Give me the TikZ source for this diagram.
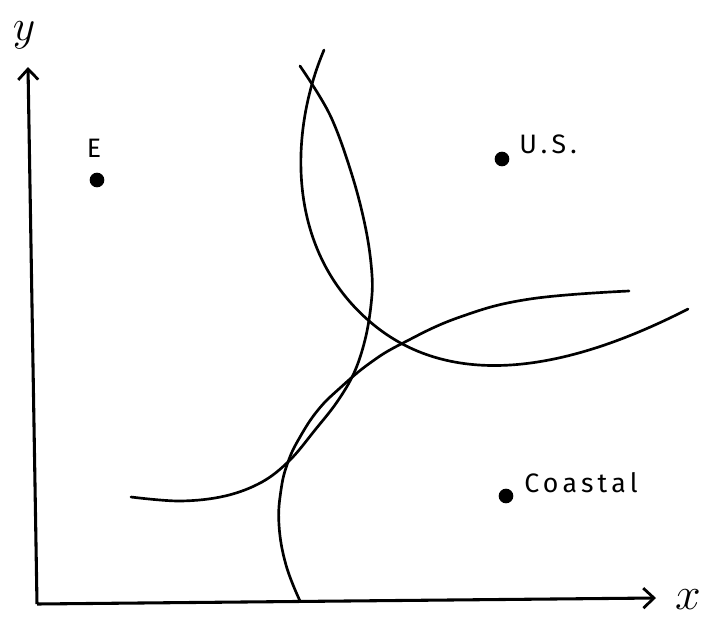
\documentclass[tikz,border=0pt]{standalone}
\usepackage{fontspec}
\setmainfont{Fira Sans}[LetterSpace=16]
\usetikzlibrary{arrows.meta}
\begin{document}
\begin{tikzpicture}[x=0.75pt,y=-0.75pt,
  curve/.style={line width=2.0pt,line cap=round,line join=round},
  axis/.style={line width=2.3pt,-{Straight Barb[length=8pt,width=15pt,line width=2.1pt]}},
  dot/.style={circle,fill=black,inner sep=0pt,minimum size=11pt},
  lab/.style={font=\fontsize{20}{22}\selectfont,inner sep=0pt},
  axlab/.style={inner sep=0pt}]
\useasboundingbox (0,0) rectangle (715,622);
% axes
\coordinate (o) at (37,604);
\coordinate (ytip) at (28,67);
\coordinate (xtip) at (656,598);
\draw[axis] (o) -- (ytip);
\draw[axis] (o) -- (xtip);
\node[axlab] (ylab) at (24,35) {\scalebox{1.9}{\LARGE$y$}};
\node[axlab] (xlab) at (688,600) {\scalebox{2.0}{\LARGE$x$}};
% points
\node[dot] (E) at (97,180) {};
\node[lab,anchor=south] (Elab) at (94,158) {E};
\node[dot] (US) at (502,159) {};
\node[lab,anchor=south west] (USlab) at (519,154) {U.S.};
\node[dot] (CO) at (506,496) {};
\node[lab,anchor=south west] (COlab) at (524,493) {Coastal};
% curve P
\draw[curve] plot[smooth,tension=0.6] coordinates {
 (131,497) (180,501) (225,496) (262,482) (290,460) (315,430) (337,402)
 (354,373) (365,340) (371,305) (372,275) (366,230) (352,175) (330,115) (300,66)};
% curve Q
\draw[curve] plot[smooth,tension=0.7] coordinates {
 (300,601) (286,565) (279,525) (281,490) (288,462) (300,437) (318,410)
 (340,388) (370,363) (403,343) (460,317) (530,299) (629,291)};
% curve U.S.
\draw[curve] (324,50) .. controls (290,130) and (285,247) .. (368,320)
  .. controls (430,375) and (530,390) .. (688,309);
\end{tikzpicture}
\end{document}
